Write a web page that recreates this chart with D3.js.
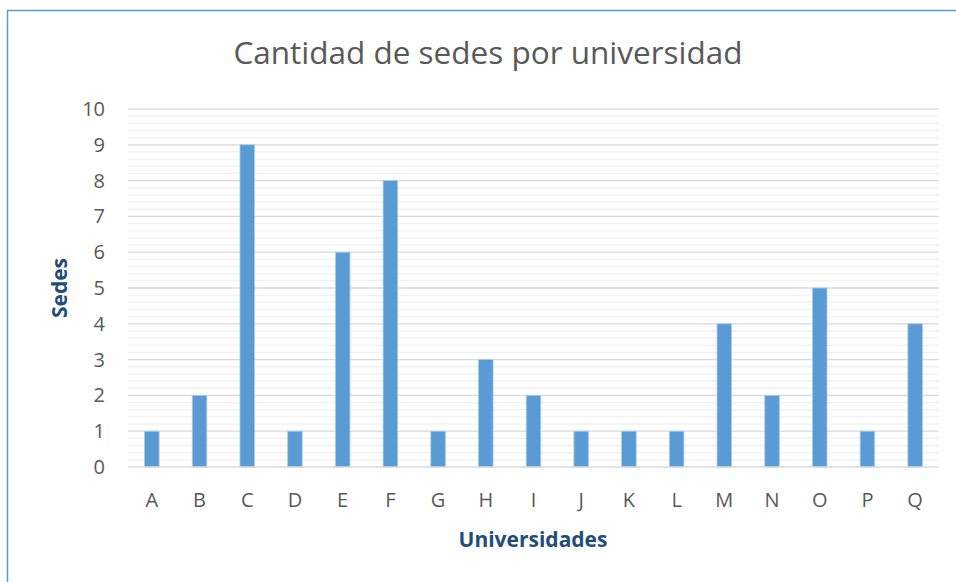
<!DOCTYPE html>
<html lang="es">
<head>
<meta charset="UTF-8">
<title>Cantidad de sedes por universidad</title>
<style>
  body { margin: 0; background: #fff; }
  text { font-family: "Open Sans", "Liberation Sans", sans-serif; }
</style>
</head>
<body>
<svg id="svg" width="956" height="582"></svg>
<script src="https://d3js.org/d3.v7.min.js"></script>
<script>
  // datos
  const universidades = ['A','B','C','D','E','F','G','H','I','J','K','L','M','N','O','P','Q']
  const sedes = [1, 2, 9, 1, 6, 8, 1, 3, 2, 1, 1, 1, 4, 2, 5, 1, 4]
  const yTicks = [0, 1, 2, 3, 4, 5, 6, 7, 8, 9, 10]

  const data = universidades.map((u, i) => ({ u: u, v: sedes[i] }))

  const svg = d3.select('#svg')
  const plotLeft = 128, plotRight = 939, plotTop = 109, plotBottom = 467

  // marco del grafico
  svg.append('rect')
    .attr('x', 7.5).attr('y', 10.5)
    .attr('width', 960).attr('height', 600)
    .attr('fill', 'none')
    .attr('stroke', '#5b9bd5')
    .attr('stroke-width', 1.5)

  const xScale = d3.scaleBand()
    .domain(universidades)
    .range([plotLeft, plotRight])
    .paddingInner(0.695)
    .paddingOuter(0.3475)

  const yScale = d3.scaleLinear()
    .domain([0, 10])
    .range([plotBottom, plotTop])

  // lineas menores (5 divisiones por unidad)
  const minor = d3.range(0, 10.001, 0.2).filter(v => Math.abs(v - Math.round(v)) > 0.01)
  svg.append('g').selectAll('line')
    .data(minor)
    .enter()
    .append('line')
    .attr('x1', plotLeft).attr('x2', plotRight)
    .attr('y1', d => yScale(d)).attr('y2', d => yScale(d))
    .attr('stroke', '#f0f0f0')
    .attr('stroke-width', 1.3)

  // lineas principales
  svg.append('g').selectAll('line')
    .data(yTicks.slice(1))
    .enter()
    .append('line')
    .attr('x1', plotLeft).attr('x2', plotRight)
    .attr('y1', d => yScale(d)).attr('y2', d => yScale(d))
    .attr('stroke', '#d9d9d9')
    .attr('stroke-width', 1.3)

  // barras
  svg.append('g').selectAll('rect')
    .data(data)
    .enter()
    .append('rect')
    .attr('x', d => xScale(d.u))
    .attr('y', d => yScale(d.v))
    .attr('width', xScale.bandwidth())
    .attr('height', d => yScale(0) - yScale(d.v))
    .attr('fill', '#5b9bd5')
    .attr('stroke', '#a9cbea')
    .attr('stroke-width', 0.8)

  // eje x
  svg.append('line')
    .attr('x1', plotLeft).attr('x2', plotRight)
    .attr('y1', yScale(0)).attr('y2', yScale(0))
    .attr('stroke', '#d9d9d9')
    .attr('stroke-width', 1.5)

  const xAxis = svg.append('g')
    .attr('transform', `translate(0,${plotBottom})`)
    .call(d3.axisBottom(xScale).tickSize(0).tickPadding(26))
  xAxis.select('.domain').remove()
  xAxis.selectAll('text')
    .attr('font-family', '"Open Sans", sans-serif')
    .attr('font-size', 20)
    .attr('fill', '#595959')

  // eje y
  const yAxis = svg.append('g')
    .attr('transform', `translate(${plotLeft},0)`)
    .call(d3.axisLeft(yScale).tickValues(yTicks).tickSize(0).tickPadding(23))
  yAxis.select('.domain').remove()
  yAxis.selectAll('text')
    .attr('font-family', '"Open Sans", sans-serif')
    .attr('font-size', 20)
    .attr('fill', '#595959')

  // titulos
  svg.append('text')
    .attr('x', 488).attr('y', 64)
    .attr('text-anchor', 'middle')
    .attr('font-size', 31.5)
    .attr('fill', '#595959')
    .text('Cantidad de sedes por universidad')

  svg.append('text')
    .attr('x', 533).attr('y', 547)
    .attr('text-anchor', 'middle')
    .attr('font-size', 21)
    .attr('font-weight', 'bold')
    .attr('fill', '#1f4e79')
    .text('Universidades')

  svg.append('text')
    .attr('transform', 'translate(67,288) rotate(-90)')
    .attr('text-anchor', 'middle')
    .attr('font-size', 21)
    .attr('font-weight', 'bold')
    .attr('fill', '#1f4e79')
    .text('Sedes')
</script>
</body>
</html>
